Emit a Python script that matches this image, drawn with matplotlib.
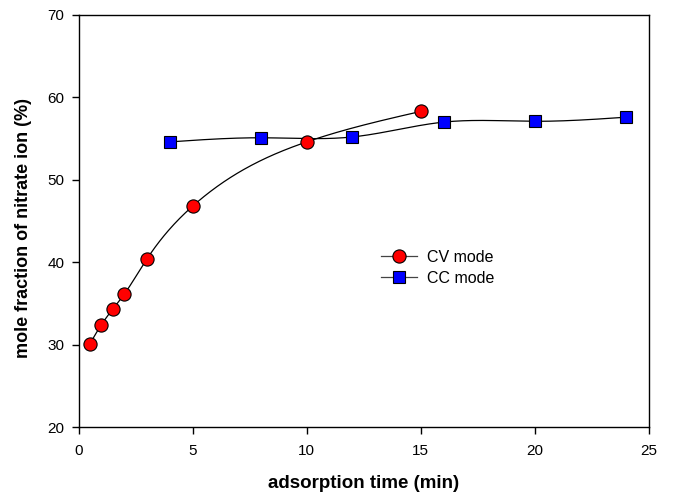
import numpy as np
import matplotlib
matplotlib.use("Agg")
import matplotlib.pyplot as plt

plt.rcParams['font.family'] = ['Liberation Sans', 'DejaVu Sans']

cv_time = [0.5, 1, 1.5, 2, 3, 5, 10, 15]
cv_frac = [30.1, 32.4, 34.3, 36.1, 40.4, 46.8, 54.6, 58.3]
cc_time = [4, 8, 12, 16, 20, 24]
cc_frac = [54.6, 55.1, 55.2, 57.0, 57.1, 57.6]
x_ticks = [0, 5, 10, 15, 20, 25]
y_ticks = [20, 30, 40, 50, 60, 70]


def natural_spline(x, y, n=300):
    x = np.asarray(x, float); y = np.asarray(y, float)
    k = len(x)
    h = np.diff(x)
    A = np.zeros((k, k)); b = np.zeros(k)
    A[0, 0] = A[-1, -1] = 1
    for i in range(1, k - 1):
        A[i, i - 1] = h[i - 1]
        A[i, i] = 2 * (h[i - 1] + h[i])
        A[i, i + 1] = h[i]
        b[i] = 6 * ((y[i + 1] - y[i]) / h[i] - (y[i] - y[i - 1]) / h[i - 1])
    M = np.linalg.solve(A, b)
    xs = np.linspace(x[0], x[-1], n)
    idx = np.clip(np.searchsorted(x, xs) - 1, 0, k - 2)
    x0, x1 = x[idx], x[idx + 1]
    hh = x1 - x0
    ys = (M[idx] * (x1 - xs) ** 3 / (6 * hh) + M[idx + 1] * (xs - x0) ** 3 / (6 * hh)
          + (y[idx] / hh - M[idx] * hh / 6) * (x1 - xs)
          + (y[idx + 1] / hh - M[idx + 1] * hh / 6) * (xs - x0))
    return xs, ys


W, H = 674, 494
L, R, T, B = 78.5, 649, 15, 427
fig = plt.figure(figsize=(W / 100, H / 100), dpi=100)
ax = fig.add_axes([L / W, 1 - B / H, (R - L) / W, (B - T) / H])

xs, ys = natural_spline(cv_time, cv_frac)
ax.plot(xs, ys, color='black', lw=0.9, zorder=2)
xs, ys = natural_spline(cc_time, cc_frac)
ax.plot(xs, ys, color='black', lw=0.9, zorder=2)

ax.plot(cv_time, cv_frac, 'o', ms=9.5, mfc='#ff0000', mec='black', mew=0.8, ls='none', zorder=3)
ax.plot(cc_time, cc_frac, 's', ms=8.5, mfc='#0000ff', mec='black', mew=0.8, ls='none', zorder=3)

h1, = ax.plot([], [], '-o', color='#444444', lw=0.9, ms=9.5, mfc='#ff0000', mec='black', mew=0.8, label='CV mode')
h2, = ax.plot([], [], '-s', color='#444444', lw=0.9, ms=8.5, mfc='#0000ff', mec='black', mew=0.8, label='CC mode')
ax.legend(handles=[h1, h2], loc='upper left', bbox_to_anchor=(381 / W, 1 - 250 / H),
          bbox_transform=fig.transFigure, frameon=False, borderpad=0, borderaxespad=0,
          fontsize=11.5, handlelength=2.25, handletextpad=0.6, labelspacing=0.38)

ax.set_xlim(0, 25)
ax.set_ylim(20, 70)
ax.set_xticks(x_ticks)
ax.set_yticks(y_ticks)
ax.tick_params(direction='out', length=5, width=1, labelsize=11)
ax.tick_params(axis='x', pad=7)
ax.tick_params(axis='y', pad=5)
for s in ax.spines.values():
    s.set_linewidth(1)

ax.set_xlabel('adsorption time (min)', fontsize=13.5, fontweight='bold', va='center')
ax.set_ylabel('mole fraction of nitrate ion (%)', fontsize=13, fontweight='bold', va='center')
ax.xaxis.set_label_coords(((L + R) / 2 - L) / (R - L), (B - 483) / (B - T))
ax.yaxis.set_label_coords((24 - L) / (R - L), (B - 228.5) / (B - T))

fig.savefig('out.png', dpi=100)
